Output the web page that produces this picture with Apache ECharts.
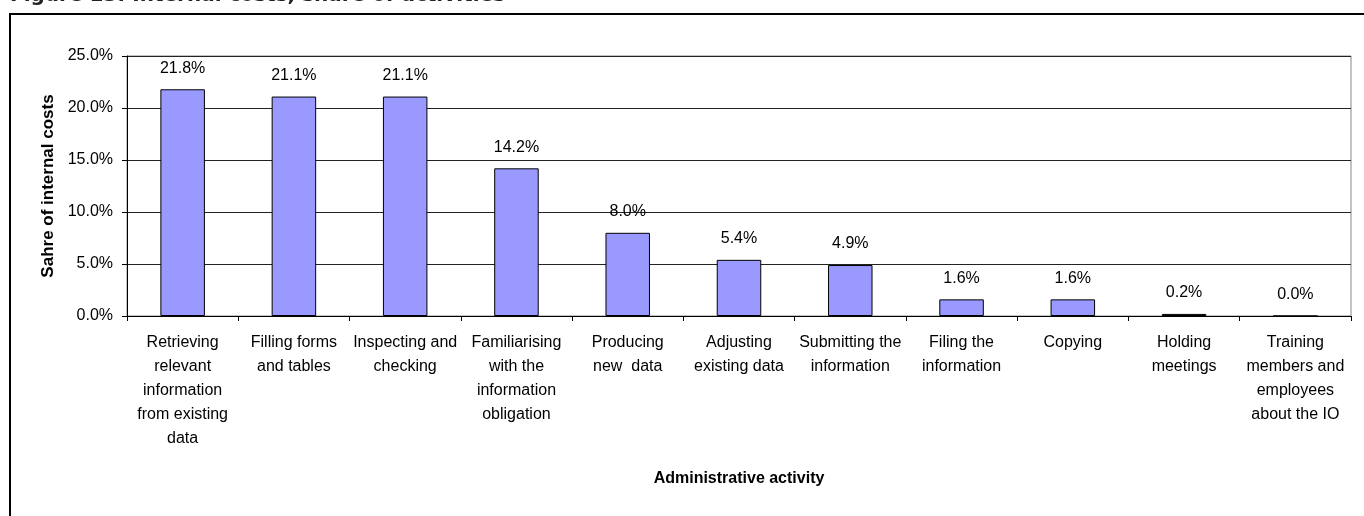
<!DOCTYPE html>
<html>
<head>
<meta charset="utf-8">
<script src="https://cdn.jsdelivr.net/npm/echarts@6/dist/echarts.min.js"></script>
<style>
html,body{margin:0;padding:0;background:#fff;}
#chart{width:1364px;height:516px;}
</style>
</head>
<body>
<div id="chart"></div>
<script>
var categories = [
  'Retrieving\nrelevant\ninformation\nfrom existing\ndata',
  'Filling forms\nand tables',
  'Inspecting and\nchecking',
  'Familiarising\nwith the\ninformation\nobligation',
  'Producing\nnew  data',
  'Adjusting\nexisting data',
  'Submitting the\ninformation',
  'Filing the\ninformation',
  'Copying',
  'Holding\nmeetings',
  'Training\nmembers and\nemployees\nabout the IO'
];
var shares = [21.8, 21.1, 21.1, 14.2, 8.0, 5.4, 4.9, 1.6, 1.6, 0.2, 0.0];
var yTicks = [0, 5, 10, 15, 20, 25];

var chart = echarts.init(document.getElementById('chart'), null, {renderer: 'canvas'});
var font = '"Liberation Sans", Arial, sans-serif';
chart.setOption({
  animation: false,
  backgroundColor: '#fff',
  graphic: [
    {type: 'rect', shape: {x: 10, y: 14, width: 1420, height: 600},
     style: {fill: 'none', stroke: '#000', lineWidth: 2}, silent: true},
    {type: 'text', x: 10, y: 6,
     style: {text: 'Figure 13: Internal costs, share of activities', fill: '#222',
             font: 'bold 20px "DejaVu Sans", sans-serif', textVerticalAlign: 'bottom'}}
  ],
  grid: {left: 127, right: 13, top: 56, bottom: 200, show: true, borderColor: '#888', borderWidth: 1},
  xAxis: {
    type: 'category',
    data: categories,
    name: 'Administrative activity',
    nameLocation: 'middle',
    nameGap: 155,
    nameTextStyle: {fontFamily: font, fontWeight: 'bold', fontSize: 16, color: '#000'},
    axisLine: {lineStyle: {color: '#000', width: 1}},
    axisTick: {show: true, length: 5, lineStyle: {color: '#000'}},
    axisLabel: {interval: 0, margin: 15, fontFamily: font, fontSize: 16, lineHeight: 24, color: '#000', align: 'center'}
  },
  yAxis: {
    type: 'value',
    min: 0, max: 25, interval: 5,
    name: 'Sahre of internal costs',
    nameLocation: 'middle',
    nameGap: 69,
    nameTextStyle: {fontFamily: font, fontWeight: 'bold', fontSize: 17, color: '#000'},
    axisLine: {show: true, lineStyle: {color: '#000', width: 1}},
    axisTick: {show: true, length: 5, lineStyle: {color: '#000'}},
    axisLabel: {margin: 14, fontFamily: font, fontSize: 16, color: '#000',
      formatter: function (v) { return yTicks.indexOf(v) >= 0 ? v.toFixed(1) + '%' : ''; }},
    splitLine: {show: true, lineStyle: {color: '#222', width: 1}}
  },
  series: [{
    type: 'bar',
    data: shares,
    barWidth: '40%',
    itemStyle: {color: '#9999FF', borderColor: '#000', borderWidth: 1},
    label: {show: true, position: 'top', distance: 13, fontFamily: font, fontSize: 16, color: '#000',
      formatter: function (p) { return p.value.toFixed(1) + '%'; }}
  }]
});
</script>
</body>
</html>
